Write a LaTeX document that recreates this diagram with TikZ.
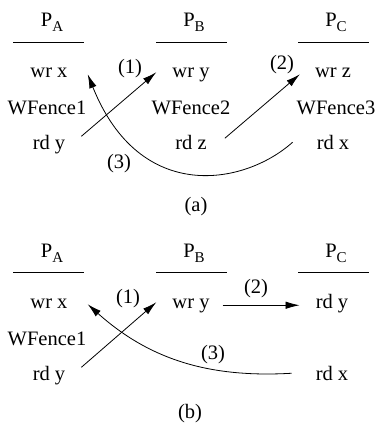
\documentclass[tikz,border=0pt]{standalone}
\usepackage{fontspec}
\setmainfont{Liberation Serif}
\usetikzlibrary{arrows.meta}
\tikzset{
  txt/.style={anchor=base, inner sep=0pt, text height=14pt, text depth=4.5pt, font=\fontsize{20.5}{24}\selectfont},
  lbl/.style={anchor=base, inner sep=0pt, font=\fontsize{20.5}{24}\selectfont},
  rule/.style={line width=0.9pt},
  arr/.style={line width=0.8pt, -{Latex[length=14pt,width=7.5pt]}},
}
\newcommand{\proc}[1]{P\raisebox{-5pt}{\fontsize{15}{15}\selectfont #1}}
\begin{document}
\begin{tikzpicture}[x=1pt,y=-1pt]
\useasboundingbox (0,0) rectangle (377,426);
% ---------- (a) ----------
\node[txt] (paA) at (52,26) {\proc{A}};
\node[txt] (pbA) at (194,26) {\proc{B}};
\node[txt] (pcA) at (336,26) {\proc{C}};
\draw[rule] (13,42) -- (84,42);
\draw[rule] (156,42) -- (227,42);
\draw[rule] (298,42) -- (369,42);
\node[txt] (a1) at (49,77) {wr x};
\node[txt] (a2) at (47,114) {WFence1};
\node[txt] (a3) at (49,149) {rd y};
\node[txt] (b1) at (191,77) {wr y};
\node[txt] (b2) at (191,114) {WFence2};
\node[txt] (b3) at (191,149) {rd z};
\node[txt] (c1) at (333,77) {wr z};
\node[txt] (c2) at (336,114) {WFence3};
\node[txt] (c3) at (333,149) {rd x};
\draw[arr] ([xshift=16pt,yshift=8pt]a3.east) -- ([xshift=-16pt,yshift=0pt]b1.west);
\draw[arr] ([xshift=18pt,yshift=6pt]b3.east) -- ([xshift=-15pt,yshift=-2pt]c1.west);
\draw[arr] ([xshift=-24pt,yshift=2pt]c3.west) .. controls (245,185) and (140,205) .. ([xshift=20pt,yshift=-2pt]a1.east);
\node[lbl] (n1) at (130,73) {(1)};
\node[lbl] (n2) at (282,69) {(2)};
\node[lbl] (n3) at (119,168) {(3)};
\node[lbl] (capa) at (196,211) {(a)};
% ---------- (b) ----------
\node[txt] (paB) at (52,257) {\proc{A}};
\node[txt] (pbB) at (194,257) {\proc{B}};
\node[txt] (pcB) at (336,257) {\proc{C}};
\draw[rule] (13,272) -- (84,272);
\draw[rule] (156,272) -- (227,272);
\draw[rule] (298,272) -- (369,272);
\node[txt] (d1) at (49,308) {wr x};
\node[txt] (d2) at (47,345) {WFence1};
\node[txt] (d3) at (49,380) {rd y};
\node[txt] (e1) at (191,308) {wr y};
\node[txt] (f1) at (332,308) {rd y};
\node[txt] (f3) at (332,380) {rd x};
\draw[arr] ([xshift=16pt,yshift=8pt]d3.east) -- ([xshift=-16pt,yshift=1pt]e1.west);
\draw[arr] ([xshift=13pt,yshift=-2pt]e1.east) -- ([xshift=-16pt,yshift=-2pt]f1.west);
\draw[arr] ([xshift=-24pt,yshift=2pt]f3.west) .. controls (210,378) and (150,360) .. ([xshift=20pt,yshift=-1pt]d1.east);
\node[lbl] (m1) at (128,303) {(1)};
\node[lbl] (m2) at (256,293) {(2)};
\node[lbl] (m3) at (213,359) {(3)};
\node[lbl] (capb) at (190,418) {(b)};
\end{tikzpicture}
\end{document}
